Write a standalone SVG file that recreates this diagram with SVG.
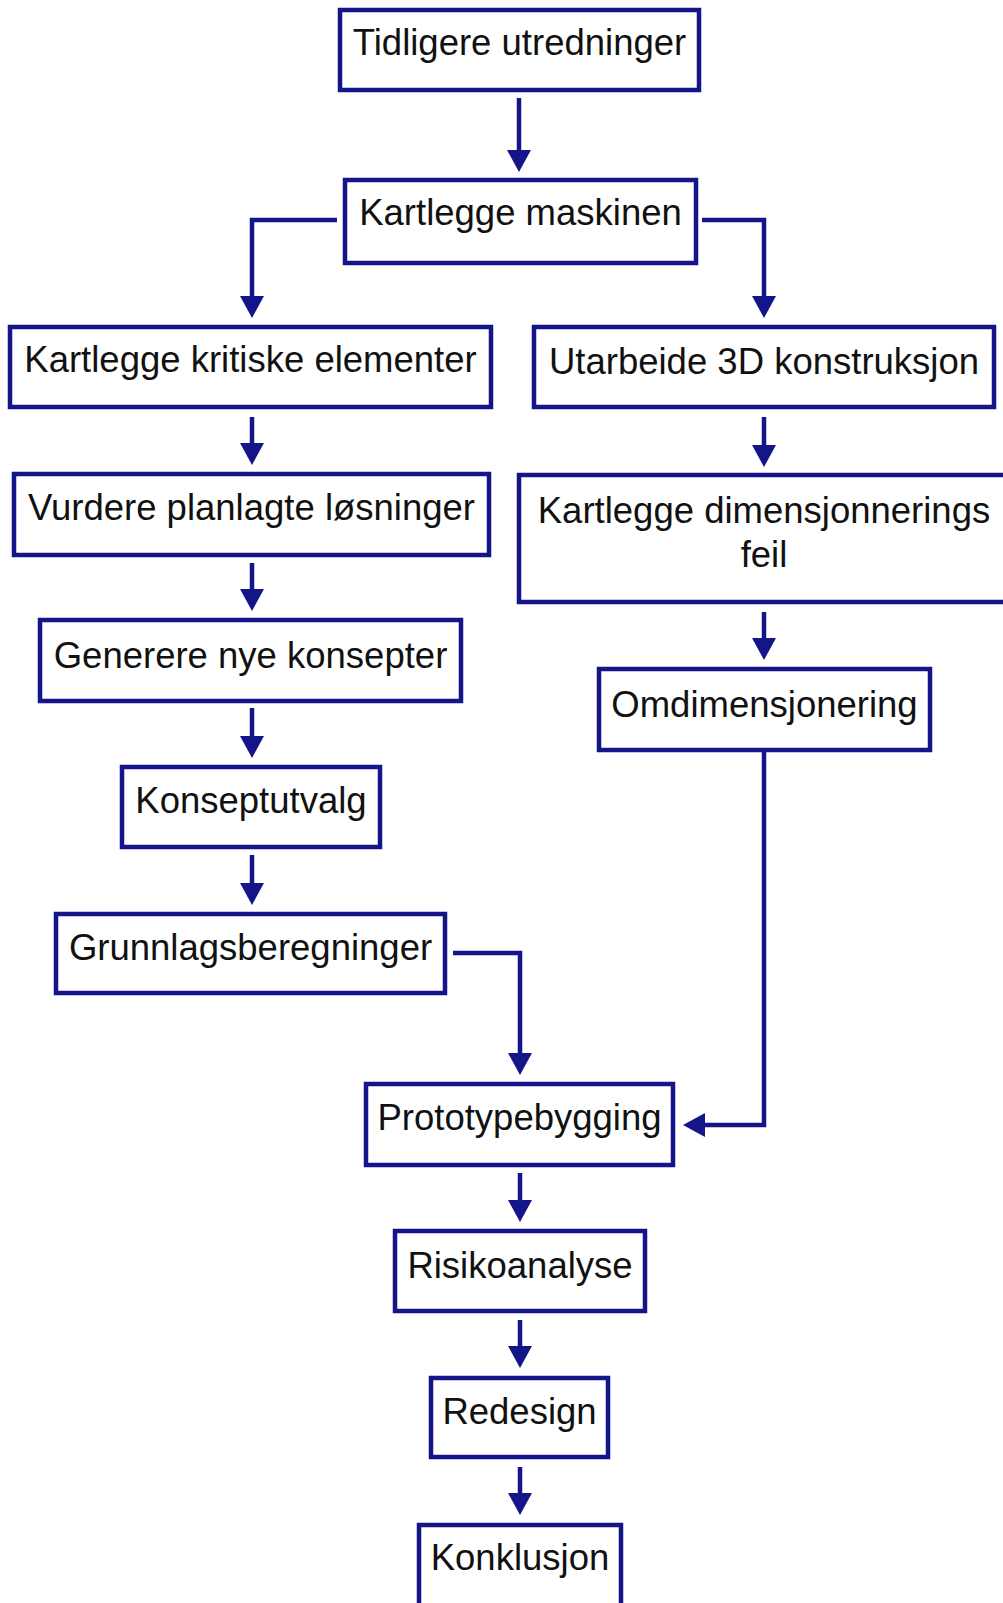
<svg xmlns="http://www.w3.org/2000/svg" width="1003" height="1603" viewBox="0 0 1003 1603">
<style>
.box{fill:#fff;stroke:#15158a;stroke-width:4.5}
.lbl{font-family:"Liberation Sans",Arial,sans-serif;font-size:36.5px;fill:#111;text-anchor:middle}
.con{fill:none;stroke:#15158a;stroke-width:4.5}
</style>
<defs>
<marker id="ah" markerUnits="userSpaceOnUse" markerWidth="24" markerHeight="24" viewBox="0 0 22 24" refX="8" refY="12" orient="auto">
<path d="M0,0 L22,12 L0,24 z" fill="#15158a"/>
</marker>
</defs>
<rect width="1003" height="1603" fill="#fff"/>
<g id="connectors">
<path class="con" marker-end="url(#ah)" d="M519,98 V158"/>
<path class="con" marker-end="url(#ah)" d="M337,220 H252 V304"/>
<path class="con" marker-end="url(#ah)" d="M702,220 H764 V304"/>
<path class="con" marker-end="url(#ah)" d="M252,417 V451"/>
<path class="con" marker-end="url(#ah)" d="M764,417 V453"/>
<path class="con" marker-end="url(#ah)" d="M252,563 V597"/>
<path class="con" marker-end="url(#ah)" d="M764,612 V646"/>
<path class="con" marker-end="url(#ah)" d="M252,708 V744"/>
<path class="con" marker-end="url(#ah)" d="M252,855 V891"/>
<path class="con" marker-end="url(#ah)" d="M453,953 H520 V1061"/>
<path class="con" marker-end="url(#ah)" d="M764,752 V1125 H697"/>
<path class="con" marker-end="url(#ah)" d="M520,1173 V1208"/>
<path class="con" marker-end="url(#ah)" d="M520,1320 V1354"/>
<path class="con" marker-end="url(#ah)" d="M520,1467 V1501"/>
</g>
<g id="n1"><rect class="box" x="340" y="10" width="359" height="80"/><text class="lbl" x="519.5" y="55">Tidligere utredninger</text></g>
<g id="n2"><rect class="box" x="345" y="180" width="351" height="83"/><text class="lbl" x="520.5" y="225">Kartlegge maskinen</text></g>
<g id="n3"><rect class="box" x="10" y="327" width="481" height="80"/><text class="lbl" x="250.5" y="372">Kartlegge kritiske elementer</text></g>
<g id="n4"><rect class="box" x="534" y="327" width="460" height="80"/><text class="lbl" x="764" y="374">Utarbeide 3D konstruksjon</text></g>
<g id="n5"><rect class="box" x="14" y="474" width="475" height="81"/><text class="lbl" x="251.5" y="520">Vurdere planlagte løsninger</text></g>
<g id="n6"><rect class="box" x="519" y="475" width="490" height="127"/><text class="lbl" x="764" y="523">Kartlegge dimensjonnerings</text><text class="lbl" x="764" y="567">feil</text></g>
<g id="n7"><rect class="box" x="40" y="620" width="421" height="81"/><text class="lbl" x="250.5" y="668">Generere nye konsepter</text></g>
<g id="n8"><rect class="box" x="599" y="669" width="331" height="81"/><text class="lbl" x="764.5" y="717">Omdimensjonering</text></g>
<g id="n9"><rect class="box" x="122" y="767" width="258" height="80"/><text class="lbl" x="251" y="813">Konseptutvalg</text></g>
<g id="n10"><rect class="box" x="56" y="914" width="389" height="79"/><text class="lbl" x="250.5" y="960">Grunnlagsberegninger</text></g>
<g id="n11"><rect class="box" x="366" y="1084" width="307" height="81"/><text class="lbl" x="519.5" y="1130">Prototypebygging</text></g>
<g id="n12"><rect class="box" x="395" y="1231" width="250" height="80"/><text class="lbl" x="520" y="1278">Risikoanalyse</text></g>
<g id="n13"><rect class="box" x="431" y="1378" width="177" height="79"/><text class="lbl" x="519.5" y="1424">Redesign</text></g>
<g id="n14"><rect class="box" x="419" y="1525" width="202" height="85"/><text class="lbl" x="520" y="1570">Konklusjon</text></g>
</svg>
